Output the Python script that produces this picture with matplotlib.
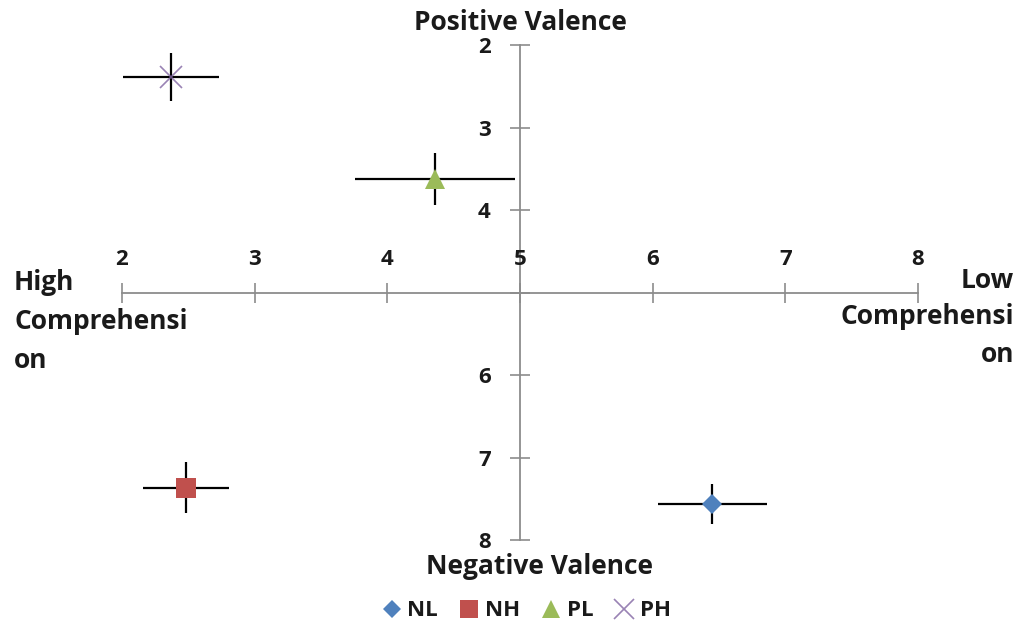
import matplotlib.pyplot as plt

# comprehension (x) and valence (y) means with error half-widths
groups = ["NL", "NH", "PL", "PH"]
comp = [6.45, 2.485, 4.36, 2.37]
valence = [7.56, 7.365, 3.625, 2.39]
comp_err = [0.41, 0.325, 0.60, 0.36]
valence_err = [0.24, 0.31, 0.315, 0.29]

colors = ["#4F81BD", "#C0504D", "#9BBB59", "#8064A2"]
markers = ["D", "s", "^", "x"]
sizes = [10, 14, 15, 16]

ticks = [2, 3, 4, 5, 6, 7, 8]

plt.rcParams["font.family"] = ["Open Sans", "DejaVu Sans"]
plt.rcParams["font.weight"] = "bold"

fig = plt.figure(figsize=(10.24, 6.26), dpi=100)
ax = fig.add_axes([122 / 1024, 1 - 540 / 626, 796 / 1024, 495 / 626])

for i, g in enumerate(groups):
    ax.errorbar(comp[i], valence[i], xerr=comp_err[i], yerr=valence_err[i],
                fmt="none", ecolor="black", elinewidth=1.6, capsize=0, zorder=2)
    ax.plot(comp[i], valence[i], linestyle="none", marker=markers[i],
            markersize=sizes[i], color=colors[i], markeredgewidth=1.2 if markers[i] == "x" else 0,
            alpha=0.8 if markers[i] == "x" else 1, label=g, zorder=3)

ax.set_xlim(2, 8)
ax.set_ylim(8, 2)

# cross-shaped axes through (5, 5)
for s in ["top", "right"]:
    ax.spines[s].set_visible(False)
ax.spines["left"].set_position(("data", 5))
ax.spines["bottom"].set_position(("data", 5))
for s in ["left", "bottom"]:
    ax.spines[s].set_color("#8C8C8C")
    ax.spines[s].set_linewidth(1.3)

ax.set_xticks(ticks)
ax.set_yticks(ticks)
ax.set_xticklabels([])
ax.set_yticklabels([str(t) if t != 5 else "" for t in ticks])
ax.tick_params(direction="inout", length=14, width=1.2, color="#8C8C8C",
               labelsize=16, pad=14, labelcolor="#1A1A1A")
for lab in ax.get_yticklabels():
    lab.set_fontweight("bold")

# x tick labels sit above the horizontal axis
for t in ticks:
    ax.annotate(str(t), (t, 5), xytext=(0, 24), textcoords="offset points",
                ha="center", va="center", fontsize=16, fontweight="bold", color="#1A1A1A")

fig.text(520 / 1024, 1 - 22 / 626, "Positive Valence", ha="center", va="center",
         fontsize=19, fontweight="bold", color="#1A1A1A")
fig.text(539 / 1024, 1 - 566 / 626, "Negative Valence", ha="center", va="center",
         fontsize=19, fontweight="bold", color="#1A1A1A")

for txt, yy in [("High", 282), ("Comprehensi", 321), ("on", 360)]:
    fig.text(14 / 1024, 1 - yy / 626, txt, ha="left", va="center",
             fontsize=19, fontweight="bold", color="#1A1A1A")
for txt, yy in [("Low", 281), ("Comprehensi", 317), ("on", 354)]:
    fig.text(1014 / 1024, 1 - yy / 626, txt, ha="right", va="center",
             fontsize=19, fontweight="bold", color="#1A1A1A")

handles, labels = ax.get_legend_handles_labels()
leg = fig.legend(handles, labels, loc="center", bbox_to_anchor=(527 / 1024, 1 - 611 / 626),
                 ncol=4, frameon=False, fontsize=16, handlelength=0.8,
                 handletextpad=0.3, columnspacing=1.0, markerscale=0.9)
for t in leg.get_texts():
    t.set_fontweight("bold")
    t.set_color("#1A1A1A")

fig.savefig("out.png", dpi=100)
